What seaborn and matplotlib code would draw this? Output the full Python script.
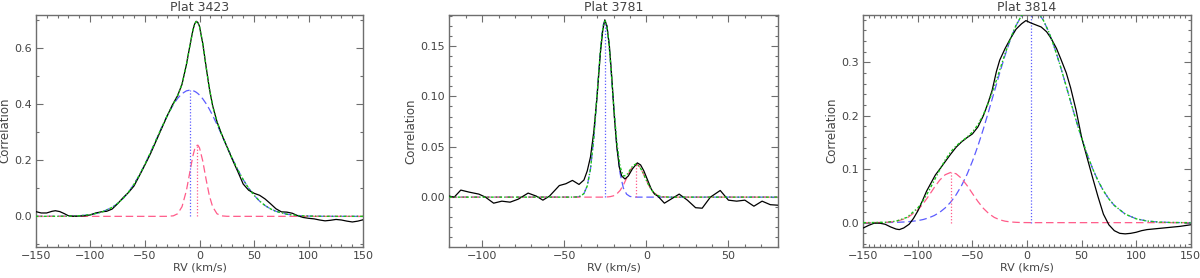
import numpy as np
import matplotlib
matplotlib.use('Agg')
import matplotlib.pyplot as plt
import seaborn as sns
from matplotlib.ticker import MultipleLocator, FormatStrFormatter

## Plat 3423
rv_obs_3423 = [-150, -145, -140, -135, -132, -128, -124, -120, -115, -110, -105, -100, -95, -90, -85, -80, -75, -70, -65, -60,
               -55, -50, -45, -40, -35, -30, -25, -20, -16, -12, -9, -6, -4.5, -3, -1.5, 0, 3, 6, 9, 12,
               16, 20, 25, 30, 35, 40, 45, 50, 55, 60, 65, 70, 75, 80, 85, 90, 95, 100, 105, 110,
               115, 120, 125, 130, 135, 140, 145, 150]
corr_obs_3423 = [0.017, 0.012, 0.012, 0.018, 0.02, 0.017, 0.01, 0.002, 0.0, 0.001, 0.002, 0.005, 0.012, 0.016, 0.018, 0.026, 0.045, 0.066, 0.085, 0.108,
                 0.145, 0.183, 0.222, 0.266, 0.31, 0.354, 0.395, 0.43, 0.47, 0.54, 0.603, 0.663, 0.684, 0.694, 0.69, 0.676, 0.615, 0.533, 0.456, 0.394,
                 0.337, 0.295, 0.249, 0.203, 0.16, 0.115, 0.093, 0.082, 0.075, 0.062, 0.045, 0.027, 0.016, 0.015, 0.011, 0.002, -0.004, -0.007, -0.009, -0.013,
                 -0.016, -0.014, -0.011, -0.013, -0.017, -0.02, -0.017, -0.012]
rv_fit_3423 = [-150, -130, -120, -110, -100, -90, -80, -75, -70, -65, -60, -55, -50, -45, -40, -35, -30, -24, -20, -16,
               -12, -9, -6, -4.5, -3, -1.5, 0, 3, 6, 9, 12, 16, 20, 25, 30, 35, 40, 45, 50, 55,
               60, 65, 70, 80, 90, 100, 110, 120, 150]
comp1_3423 = [0.0, 0.0002, 0.0007, 0.0022, 0.0059, 0.0144, 0.0319, 0.0456, 0.0636, 0.0863, 0.1142, 0.147, 0.1849, 0.2262, 0.2697, 0.3133, 0.3546, 0.3975, 0.4201, 0.4367,
              0.4465, 0.449, 0.4473, 0.4449, 0.4415, 0.437, 0.4317, 0.4181, 0.4013, 0.3815, 0.3593, 0.3269, 0.2925, 0.2487, 0.206, 0.1662, 0.1307, 0.1002, 0.0748, 0.0544,
              0.0385, 0.0266, 0.0179, 0.0075, 0.0028, 0.001, 0.0003, 0.0001, 0.0]
comp2_3423 = [0, 0, 0, 0, 0, 0, 0, 0, 0, 0, 0, 0, 0, 0, 0, 0, 0.0001, 0.0018, 0.0093, 0.0344,
              0.0916, 0.1541, 0.2158, 0.2383, 0.2514, 0.2533, 0.2438, 0.1968, 0.1322, 0.0739, 0.0344, 0.0093, 0.0018, 0.0002, 0, 0, 0, 0, 0, 0,
              0, 0, 0, 0, 0, 0, 0, 0, 0]
centers_3423 = [-8.7, -2.0]
peaks_3423 = [0.449, 0.254]

## Plat 3781
rv_obs_3781 = [-120, -117, -113, -108, -102, -98, -93, -88, -83, -78, -72, -67, -63, -59, -55, -53, -49, -45, -41, -38,
               -36, -34, -32, -30, -28, -26.5, -25.3, -24, -22.5, -21, -19.5, -18, -16.5, -15, -13, -11, -8.5, -5.5, -3.5, -1.5,
               1, 3, 5, 7, 11, 15, 20, 25, 30, 34, 39, 45, 50, 55, 60, 65.5, 70.5, 75.5, 80]
corr_obs_3781 = [0.001, 0.0, 0.007, 0.005, 0.003, 0.0, -0.006, -0.004, -0.005, -0.002, 0.004, 0.001, -0.003, 0.001, 0.008, 0.0115, 0.0133, 0.0166, 0.0126, 0.017,
                 0.026, 0.04, 0.065, 0.1, 0.143, 0.166, 0.176, 0.17, 0.15, 0.118, 0.08, 0.05, 0.03, 0.021, 0.018, 0.021, 0.028, 0.034, 0.032, 0.026,
                 0.016, 0.008, 0.003, 0.001, -0.006, -0.002, 0.003, -0.003, -0.0105, -0.011, 0.0, 0.0066, -0.003, -0.004, -0.003, -0.009, -0.004, -0.0075, -0.008]
rv_fit_3781 = [-120, -46, -42, -40, -38, -36, -34, -32, -30, -28, -27, -26, -25, -24, -23, -22, -20, -18, -16, -14,
               -12, -10, -8, -6, -4, -2, 0, 2, 4, 6, 8, 10, 14, 80]
comp1_3781 = [0, 0, 0.0002, 0.001, 0.0036, 0.0111, 0.0281, 0.0587, 0.1015, 0.1454, 0.1621, 0.1724, 0.175, 0.1692, 0.1561, 0.1374, 0.0924, 0.0514, 0.0237, 0.009,
              0.0029, 0.0007, 0.0002, 0, 0, 0, 0, 0, 0, 0, 0, 0, 0, 0]
comp2_3781 = [0, 0, 0, 0, 0, 0, 0, 0, 0, 0, 0, 0.0001, 0.0001, 0.0002, 0.0003, 0.0005, 0.0013, 0.0032, 0.0066, 0.0119,
              0.0189, 0.0261, 0.0314, 0.033, 0.0301, 0.024, 0.0167, 0.0101, 0.0054, 0.0025, 0.001, 0.0003, 0, 0]
centers_3781 = [-25.2, -6.3]
peaks_3781 = [0.175, 0.033]

## Plat 3814
rv_obs_3814 = [-150, -145, -140, -135, -130, -125, -120, -117, -113, -108, -104, -100, -96, -92, -88, -84, -80, -75, -70, -65,
               -60, -55, -50, -45, -40, -36, -32, -28, -25, -20, -15, -10, -5, -1, 3, 8, 13, 18, 22, 27,
               31, 36, 40, 45, 50, 55, 60, 65, 70, 75, 80, 85, 90, 95, 100, 105, 110, 120, 130, 140, 150]
corr_obs_3814 = [-0.01, -0.005, -0.001, -0.001, -0.003, -0.008, -0.012, -0.013, -0.01, -0.003, 0.008, 0.022, 0.04, 0.059, 0.074, 0.089, 0.1, 0.114, 0.128, 0.141,
                 0.151, 0.159, 0.166, 0.179, 0.2, 0.222, 0.247, 0.283, 0.304, 0.326, 0.345, 0.362, 0.372, 0.378, 0.374, 0.37, 0.366, 0.357, 0.345, 0.326,
                 0.306, 0.28, 0.252, 0.21, 0.16, 0.122, 0.085, 0.049, 0.016, -0.004, -0.015, -0.02, -0.021, -0.02, -0.018, -0.015, -0.013, -0.011, -0.009, -0.007, -0.004]
rv_fit_3814 = [-150, -140, -130, -120, -110, -100, -95, -90, -85, -80, -75, -70, -65, -60, -55, -50, -45, -40, -35, -30,
               -25, -20, -15, -10, -5, 0, 5, 10, 15, 20, 25, 30, 35, 40, 45, 50, 55, 60, 65, 70,
               75, 80, 90, 100, 110, 120, 130, 140, 150]
comp1_3814 = [0.0, 0.0001, 0.0002, 0.0005, 0.0015, 0.0038, 0.0059, 0.009, 0.0133, 0.0193, 0.0275, 0.0382, 0.052, 0.0692, 0.0901, 0.1149, 0.1434, 0.1751, 0.2093, 0.2448,
              0.2801, 0.3137, 0.3439, 0.3688, 0.3871, 0.3976, 0.3997, 0.3932, 0.3785, 0.3566, 0.3287, 0.2966, 0.2618, 0.2262, 0.1913, 0.1583, 0.1282, 0.1016, 0.0788, 0.0598,
              0.0444, 0.0322, 0.016, 0.0072, 0.003, 0.0012, 0.0004, 0.0001, 0.0]
comp2_3814 = [0.0, 0.0001, 0.0004, 0.0022, 0.0084, 0.0237, 0.0358, 0.0503, 0.0656, 0.0795, 0.0896, 0.0939, 0.0915, 0.0828, 0.0697, 0.0545, 0.0397, 0.0268, 0.0169, 0.0098,
              0.0053, 0.0027, 0.0013, 0.0006, 0.0002, 0.0001, 0, 0, 0, 0, 0, 0, 0, 0, 0, 0, 0, 0, 0, 0,
              0, 0, 0, 0, 0, 0, 0, 0, 0]
centers_3814 = [3.7, -69.3]
peaks_3814 = [0.40, 0.094]

BLUE = '#5c5cff'
RED = '#ff5c8a'
GREEN = '#19c219'
TXT = '#444444'
FRAME = '#6e6e6e'

sns.set_style('ticks')
plt.rcParams['font.family'] = ['DejaVu Sans']
plt.rcParams['axes.unicode_minus'] = True


def draw_panel(ax, title, rv_obs, corr_obs, rv_fit, comp1, comp2, centers, peaks,
               xlim, ylim, xminor, ymajor, yminor, yfmt):
    total = np.array(comp1) + np.array(comp2)

    sns.lineplot(x=rv_fit, y=comp1, ax=ax, color=BLUE, lw=0.9, linestyle=(0, (6, 3)),
                 estimator=None, sort=False, zorder=2)
    sns.lineplot(x=rv_fit, y=comp2, ax=ax, color=RED, lw=0.9, linestyle=(0, (6, 3)),
                 estimator=None, sort=False, zorder=2.1)
    ax.vlines(centers[0], 0, peaks[0], colors=BLUE, linestyles=(0, (1, 1.5)), lw=0.9, zorder=2.2)
    ax.vlines(centers[1], 0, peaks[1], colors=RED, linestyles=(0, (1, 1.5)), lw=0.9, zorder=2.2)
    sns.lineplot(x=rv_obs, y=corr_obs, ax=ax, color='black', lw=0.9,
                 estimator=None, sort=False, zorder=3)
    sns.lineplot(x=rv_fit, y=total, ax=ax, color=GREEN, lw=1.0, linestyle=(0, (2, 1.5, 1, 1.5)),
                 estimator=None, sort=False, zorder=3.5)

    ax.set_xlim(*xlim)
    ax.set_ylim(*ylim)
    ax.xaxis.set_major_locator(MultipleLocator(50))
    ax.xaxis.set_minor_locator(MultipleLocator(xminor))
    ax.yaxis.set_major_locator(MultipleLocator(ymajor))
    ax.yaxis.set_minor_locator(MultipleLocator(yminor))
    ax.yaxis.set_major_formatter(FormatStrFormatter(yfmt))

    ax.tick_params(which='both', direction='in', top=True, right=True, color=FRAME,
                   labelcolor=TXT, labelsize=8, width=0.8)
    ax.tick_params(which='major', length=5, pad=3)
    ax.tick_params(which='minor', length=2.5)
    for sp in ax.spines.values():
        sp.set_color(FRAME)
        sp.set_linewidth(1.0)

    ax.set_title(title, fontsize=9, color=TXT, pad=3)
    ax.set_xlabel('RV (km/s)', fontsize=8, color=TXT, labelpad=1)
    ax.set_ylabel('Correlation', fontsize=8.5, color=TXT, labelpad=2)


fig = plt.figure(figsize=(12, 2.78), dpi=100)

ax1 = fig.add_axes([35.7 / 1200, (278 - 246.7) / 278, 327.6 / 1200, 232 / 278])
draw_panel(ax1, 'Plat 3423', rv_obs_3423, corr_obs_3423, rv_fit_3423, comp1_3423, comp2_3423,
           centers_3423, peaks_3423, (-150, 150), (-0.108, 0.7175), 10, 0.2, 0.1, '%.1f')

ax2 = fig.add_axes([449.3 / 1200, (278 - 247.3) / 278, 328.4 / 1200, 232.6 / 278])
draw_panel(ax2, 'Plat 3781', rv_obs_3781, corr_obs_3781, rv_fit_3781, comp1_3781, comp2_3781,
           centers_3781, peaks_3781, (-120, 80), (-0.0498, 0.1811), 10, 0.05, 0.01, '%.2f')

ax3 = fig.add_axes([863.3 / 1200, (278 - 246.7) / 278, 327.4 / 1200, 232 / 278])
draw_panel(ax3, 'Plat 3814', rv_obs_3814, corr_obs_3814, rv_fit_3814, comp1_3814, comp2_3814,
           centers_3814, peaks_3814, (-150, 150), (-0.045, 0.389), 5, 0.1, 0.02, '%.1f')

plt.savefig('out.png', dpi=100)
